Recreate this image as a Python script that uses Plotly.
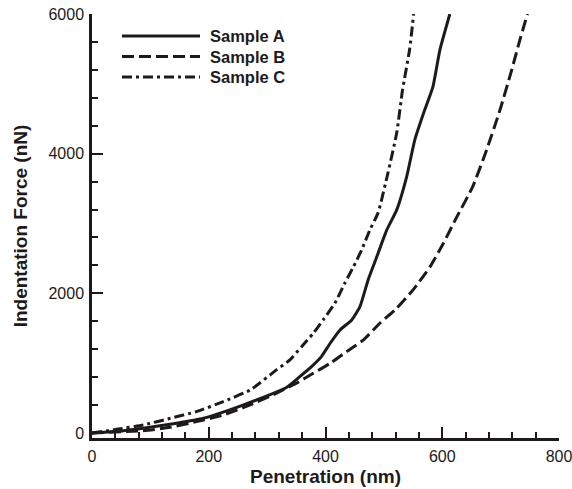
import plotly.graph_objects as go

# Data
a_x = [0, 54, 99, 145, 191, 236, 282, 333, 356, 376, 393, 408, 425, 445, 459, 473, 488, 505, 522, 539, 553, 570, 584, 596, 613]
a_y = [0, 33, 81, 139, 210, 330, 473, 652, 807, 950, 1094, 1285, 1476, 1619, 1810, 2192, 2526, 2908, 3195, 3668, 4198, 4628, 4957, 5487, 6000]

b_x = [0, 88, 134, 179, 225, 271, 316, 350, 379, 408, 436, 465, 493, 522, 550, 579, 602, 625, 652, 676, 699, 719, 733, 746]
b_y = [0, 33, 81, 162, 258, 401, 569, 712, 855, 998, 1165, 1332, 1571, 1786, 2049, 2378, 2718, 3095, 3524, 4054, 4628, 5200, 5630, 6000]

c_x = [0, 42, 88, 134, 179, 225, 271, 316, 339, 359, 379, 396, 416, 433, 448, 462, 476, 490, 507, 522, 532, 544, 551]
c_y = [0, 52, 115, 210, 306, 449, 616, 903, 1046, 1236, 1428, 1619, 1858, 2144, 2383, 2622, 2908, 3152, 3725, 4298, 4914, 5487, 6000]

names = ["Sample A", "Sample B", "Sample C"]
dashes = ["solid", "12px,5px", "10px,4px,3px,4px"]
color = "#1e1a1b"
W = 3
FONT = "Liberation Sans, Arial, sans-serif"

# body margin is removed via post_script, so page pixels == figure pixels
FW, FH = 572, 489
L, R, T, B = 92, 13, 14, 51

fig = go.Figure()
for xs, ys, nm, ds in zip([a_x, b_x, c_x], [a_y, b_y, c_y], names, dashes):
    fig.add_trace(go.Scatter(x=xs, y=ys, mode="lines", name=nm,
                             line=dict(color=color, width=W, dash=ds, shape="spline", smoothing=0.5),
                             showlegend=False))

# manual legend (paper coords), positions given in page pixels
pw, ph = FW - L - R, FH - T - B
def px2paper(px, py):
    return (px - L) / pw, (FH - B - py) / ph

shapes = []
annotations = []
for i, (nm, ds) in enumerate(zip(names, dashes)):
    py = 36 + 20.5 * i
    x0, y0 = px2paper(122, py)
    x1, _ = px2paper(200, py)
    shapes.append(dict(type="line", xref="paper", yref="paper", x0=x0, x1=x1, y0=y0, y1=y0,
                       line=dict(color=color, width=W, dash=ds)))
    tx, ty = px2paper(208, py)
    annotations.append(dict(xref="paper", yref="paper", x=tx, y=ty, text="<b>%s</b>" % nm,
                            showarrow=False, xanchor="left", yanchor="middle",
                            font=dict(family=FONT, size=16.5, color=color)))

fig.update_layout(
    width=FW, height=FH,
    margin=dict(l=L, r=R, t=T, b=B),
    paper_bgcolor="white", plot_bgcolor="white",
    font=dict(family=FONT, size=16, color=color),
    shapes=shapes, annotations=annotations,
    showlegend=False,
)
fig.update_xaxes(range=[0, 800], dtick=200, ticks="inside", ticklen=11, tickwidth=2,
                 tickcolor=color, showline=True, linecolor=color, linewidth=2.5,
                 showgrid=False, zeroline=False, automargin=False, ticklabelstandoff=2,
                 ticklabeloverflow="allow",
                 minor=dict(dtick=40, ticks="inside", ticklen=6, tickwidth=1.5, tickcolor=color, showgrid=False),
                 title=dict(text="<b>Penetration (nm)</b>", font=dict(size=19), standoff=6),
                 tickfont=dict(size=16))
fig.update_yaxes(range=[-72, 6000], tickvals=[0, 2000, 4000, 6000], ticks="inside", ticklen=11, tickwidth=2,
                 tickcolor=color, showline=True, linecolor=color, linewidth=2.5,
                 showgrid=False, zeroline=False, automargin=False, ticklabelstandoff=2,
                 ticklabeloverflow="allow",
                 minor=dict(tickvals=[400, 800, 1200, 1600, 2400, 2800, 3200, 3600, 4400, 4800, 5200, 5600],
                            ticks="inside", ticklen=6, tickwidth=1.5, tickcolor=color, showgrid=False),
                 title=dict(text="<b>Indentation Force (nN)</b>", font=dict(size=19), standoff=16),
                 tickfont=dict(size=16))

fig.write_html("out.html", config={"displayModeBar": False},
               post_script="document.body.style.margin='0';document.body.style.overflow='hidden';")
